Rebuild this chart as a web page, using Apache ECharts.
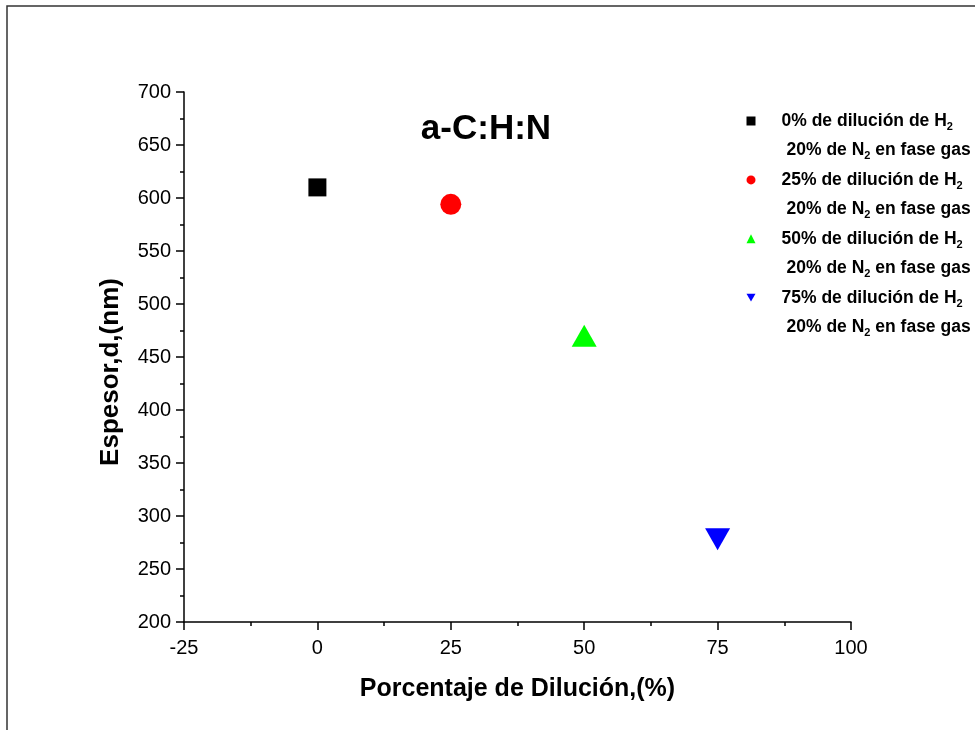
<!DOCTYPE html>
<html>
<head>
<meta charset="utf-8">
<script src="https://cdn.jsdelivr.net/npm/echarts@6/dist/echarts.min.js"></script>
<style>
  html, body { margin: 0; padding: 0; background: #ffffff; }
  #chart { width: 975px; height: 730px; }
</style>
</head>
<body>
<div id="chart"></div>
<script>
// Film thickness versus H2 dilution (20% N2 in the gas phase)
const dilution = [0, 25, 50, 75];
const thickness = [610, 594, 470, 278];
const seriesKeys = ['0%', '25%', '50%', '75%'];
const seriesColors = ['#000000', '#ff0000', '#00ff00', '#0000ff'];
const seriesSymbols = ['rect', 'circle', 'triangle', 'triangle'];
const symbolRotations = [0, 0, 0, 180];
const symbolSizes = [18, 21, [25, 22], [25, 22]];
const legendIcons = ['rect', 'circle', 'triangle', 'path://M0,0L20,0L10,17.3Z'];
const xTickValues = [-25, 0, 25, 50, 75, 100];
const yTickValues = [200, 250, 300, 350, 400, 450, 500, 550, 600, 650, 700];

const FONT = '"Liberation Sans", Arial, Helvetica, sans-serif';
const LINE_H = 29.3;
const LEGEND_FONT = 17.5;

const chart = echarts.init(document.getElementById('chart'), null, { renderer: 'canvas' });

const series = seriesKeys.map((key, i) => ({
  name: key,
  type: 'scatter',
  data: [[dilution[i], thickness[i]]],
  symbol: seriesSymbols[i],
  symbolSize: symbolSizes[i],
  symbolRotate: symbolRotations[i],
  itemStyle: { color: seriesColors[i], opacity: 1 },
  emphasis: { disabled: true },
  z: 3
}));

// one legend block per series: symbol beside the first line, second line indented
const legends = seriesKeys.map((key, i) => ({
  data: [{ name: key, icon: legendIcons[i], itemStyle: { color: seriesColors[i] } }],
  left: 746.5,
  top: 121 + i * 58.9 - 1.5 * LINE_H,
  padding: 0,
  itemWidth: 9,
  itemHeight: 9,
  selectedMode: false,
  formatter: name => '{a|' + name + ' de dilución de H}{s|2}\n{b|20% de N}{s|2}{a| en fase gas}',
  textStyle: {
    fontFamily: FONT,
    fontWeight: 'bold',
    fontSize: LEGEND_FONT,
    color: '#000',
    lineHeight: LINE_H,
    padding: [LINE_H, 0, 0, 21],
    rich: {
      a: { fontFamily: FONT, fontWeight: 'bold', fontSize: LEGEND_FONT, color: '#000', lineHeight: LINE_H },
      b: { fontFamily: FONT, fontWeight: 'bold', fontSize: LEGEND_FONT, color: '#000', lineHeight: LINE_H, padding: [0, 0, 0, 5] },
      s: { fontFamily: FONT, fontWeight: 'bold', fontSize: 11, color: '#000', lineHeight: LINE_H, padding: [12, 0, 0, 0] }
    }
  }
}));

const axisCommon = {
  axisLine: { show: true, onZero: false, lineStyle: { color: '#000', width: 1.5 } },
  axisTick: { show: true, inside: false, length: 8, lineStyle: { color: '#000', width: 1.5 } },
  minorTick: { show: true, splitNumber: 2, length: 4, lineStyle: { color: '#000', width: 1.5 } },
  splitLine: { show: false },
  nameLocation: 'middle'
};

const option = {
  animation: false,
  backgroundColor: '#ffffff',
  title: {
    text: 'a-C:H:N',
    left: 481,
    top: 124,
    textAlign: 'center',
    textVerticalAlign: 'middle',
    textStyle: { fontFamily: FONT, fontWeight: 'bold', fontSize: 35, color: '#000' }
  },
  legend: legends,
  grid: { left: 184, right: 124, top: 92, bottom: 108, containLabel: false },
  xAxis: Object.assign({}, axisCommon, {
    type: 'value',
    min: xTickValues[0],
    max: xTickValues[xTickValues.length - 1],
    interval: 25,
    name: 'Porcentaje de Dilución,(%)',
    nameGap: 55,
    nameTextStyle: { fontFamily: FONT, fontWeight: 'bold', fontSize: 25, color: '#000' },
    axisLabel: { fontFamily: FONT, fontSize: 20, color: '#000', margin: 16 }
  }),
  yAxis: Object.assign({}, axisCommon, {
    type: 'value',
    min: yTickValues[0],
    max: yTickValues[yTickValues.length - 1],
    interval: 50,
    name: 'Espesor,d,(nm)',
    nameGap: 60,
    nameTextStyle: { fontFamily: FONT, fontWeight: 'bold', fontSize: 26, color: '#000', padding: [0, 30, 0, 0] },
    axisLabel: { fontFamily: FONT, fontSize: 20, color: '#000', margin: 13 }
  }),
  graphic: [{
    type: 'rect',
    shape: { x: 7, y: 6, width: 1200, height: 1200 },
    style: { fill: null, stroke: '#333333', lineWidth: 1.5 },
    silent: true
  }],
  series: series
};

chart.setOption(option);
</script>
</body>
</html>
